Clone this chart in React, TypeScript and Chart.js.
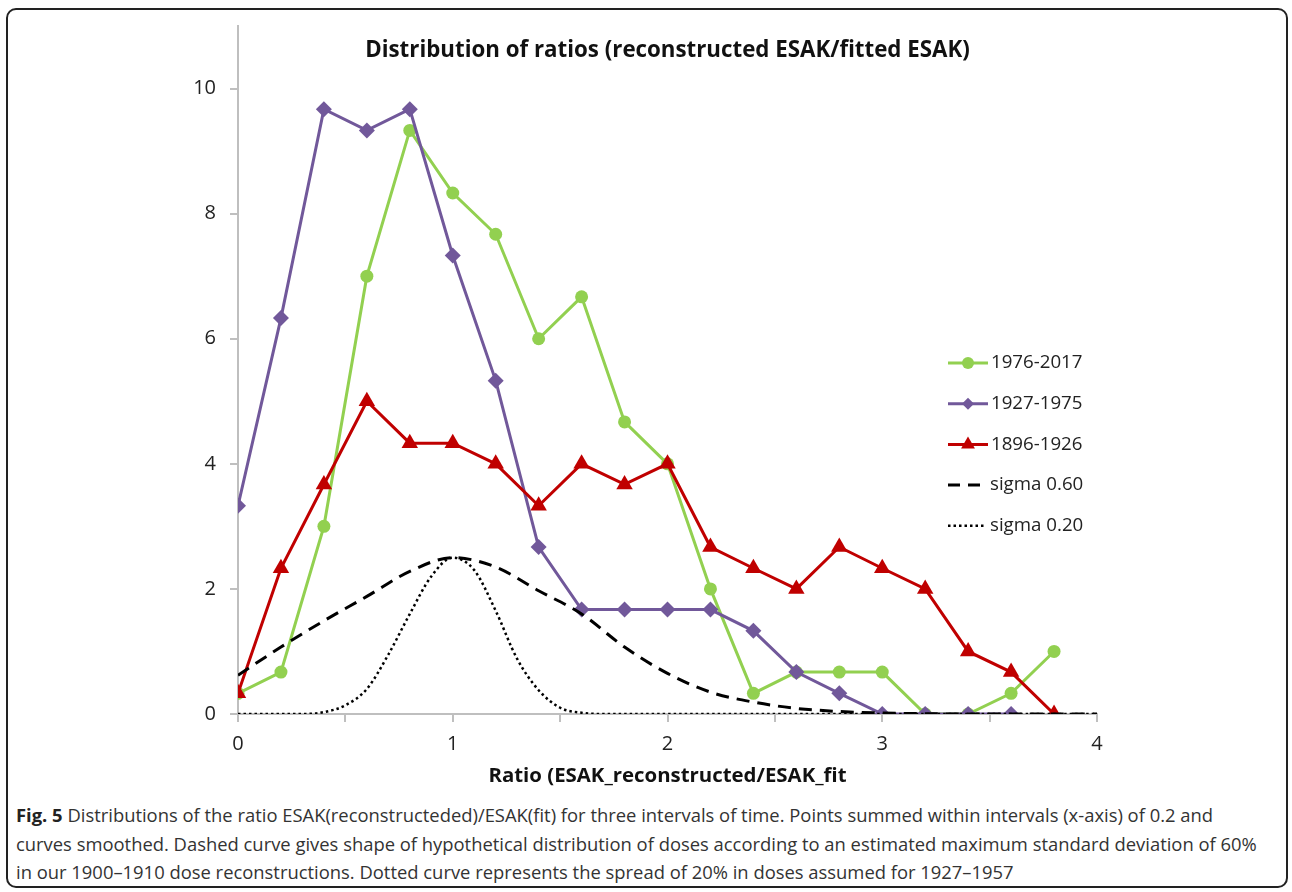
import React, { useEffect, useRef } from 'react';
import { Chart, registerables } from 'chart.js';

Chart.register(...registerables);

// ---- Data ----
const ratioBins = [0, 0.2, 0.4, 0.6, 0.8, 1.0, 1.2, 1.4, 1.6, 1.8, 2.0, 2.2, 2.4, 2.6, 2.8, 3.0, 3.2, 3.4, 3.6, 3.8];
const series1976 = [0.33, 0.67, 3.0, 7.0, 9.33, 8.33, 7.67, 6.0, 6.67, 4.67, 4.0, 2.0, 0.33, 0.67, 0.67, 0.67, 0, 0, 0.33, 1.0];
const series1927 = [3.33, 6.33, 9.67, 9.33, 9.67, 7.33, 5.33, 2.67, 1.67, 1.67, 1.67, 1.67, 1.33, 0.67, 0.33, 0, 0, 0, 0, null];
const series1896 = [0.33, 2.33, 3.67, 5.0, 4.33, 4.33, 4.0, 3.33, 4.0, 3.67, 4.0, 2.67, 2.33, 2.0, 2.67, 2.33, 2.0, 1.0, 0.67, 0];

const sigma60X = [0, 0.2, 0.4, 0.6, 0.8, 1.0, 1.2, 1.4, 1.6, 1.8, 2.0, 2.2, 2.4, 2.6, 2.8, 3.0, 3.2, 3.4, 3.6, 3.8, 4.0];
const sigma60Y = [0.62, 1.07, 1.49, 1.88, 2.28, 2.5, 2.35, 1.97, 1.6, 1.07, 0.65, 0.35, 0.19, 0.09, 0.04, 0.015, 0.005, 0, 0, 0, 0];

const sigma20X = [0, 0.3, 0.4, 0.5, 0.6, 0.7, 0.8, 0.9, 1.0, 1.1, 1.2, 1.3, 1.4, 1.5, 1.6, 1.7, 4.0];
const sigma20Y = [0, 0, 0.03, 0.14, 0.4, 0.95, 1.6, 2.2, 2.5, 2.3, 1.65, 0.88, 0.38, 0.1, 0.02, 0, 0];

const seriesLabels = ['1976-2017', '1927-1975', '1896-1926', 'sigma 0.60', 'sigma 0.20'];
const titleText = 'Distribution of ratios (reconstructed ESAK/fitted ESAK)';
const xTitleText = 'Ratio (ESAK_reconstructed/ESAK_fit';

const GREEN = '#92d050';
const PURPLE = '#71589a';
const RED = '#c00000';
const FONT = '"Open Sans", "DejaVu Sans", sans-serif';

const toXY = (xs: number[], ys: (number | null)[]) => xs.map((x, i) => ({ x, y: ys[i] }));

function drawMarker(ctx: CanvasRenderingContext2D, style: string, x: number, y: number, r: number, color: string) {
  ctx.save();
  ctx.fillStyle = color;
  ctx.beginPath();
  if (style === 'circle') {
    ctx.arc(x, y, r, 0, Math.PI * 2);
  } else if (style === 'rectRot') {
    ctx.moveTo(x, y - r);
    ctx.lineTo(x + r, y);
    ctx.lineTo(x, y + r);
    ctx.lineTo(x - r, y);
    ctx.closePath();
  } else if (style === 'triangle') {
    ctx.moveTo(x, y - r);
    ctx.lineTo(x + r * 0.866, y + r * 0.5);
    ctx.lineTo(x - r * 0.866, y + r * 0.5);
    ctx.closePath();
  }
  ctx.fill();
  ctx.restore();
}

const overlayPlugin = {
  id: 'overlay',
  afterDraw(chart: any) {
    const { ctx, chartArea } = chart;
    ctx.save();
    // title
    ctx.fillStyle = '#111';
    ctx.font = `bold 22.3px ${FONT}`;
    ctx.textAlign = 'center';
    ctx.textBaseline = 'middle';
    ctx.fillText(titleText, (chartArea.left + chartArea.right) / 2, chartArea.top + 25);

    // legend
    const lx = chartArea.left + 710;
    const ly0 = chartArea.top + 337;
    const gap = 40.7;
    const items = [
      { kind: 'marker', color: GREEN, style: 'circle', r: 6 },
      { kind: 'marker', color: PURPLE, style: 'rectRot', r: 6 },
      { kind: 'marker', color: RED, style: 'triangle', r: 8 },
      { kind: 'dash' },
      { kind: 'dot' },
    ];
    items.forEach((it: any, i: number) => {
      const y = ly0 + i * gap;
      ctx.save();
      if (it.kind === 'marker') {
        ctx.strokeStyle = it.color;
        ctx.lineWidth = 3;
        ctx.beginPath();
        ctx.moveTo(lx, y);
        ctx.lineTo(lx + 40, y);
        ctx.stroke();
        drawMarker(ctx, it.style, lx + 20, y, it.r, it.color);
      } else if (it.kind === 'dash') {
        ctx.strokeStyle = '#000';
        ctx.lineWidth = 3;
        ctx.setLineDash([12, 8]);
        ctx.beginPath();
        ctx.moveTo(lx, y);
        ctx.lineTo(lx + 32, y);
        ctx.stroke();
      } else {
        ctx.strokeStyle = '#000';
        ctx.lineWidth = 2.5;
        ctx.setLineDash([2.5, 3]);
        ctx.beginPath();
        ctx.moveTo(lx, y);
        ctx.lineTo(lx + 37, y);
        ctx.stroke();
      }
      ctx.restore();
      ctx.fillStyle = '#222';
      ctx.font = `18.7px ${FONT}`;
      ctx.textAlign = 'left';
      ctx.textBaseline = 'middle';
      ctx.fillText(seriesLabels[i], it.kind === 'marker' ? lx + 43 : lx + 42, y);
    });
    ctx.restore();
  },
};

export default function App() {
  const ref = useRef<HTMLCanvasElement>(null);

  useEffect(() => {
    if (!ref.current) return;
    const chart = new Chart(ref.current, {
      type: 'line',
      data: {
        datasets: [
          {
            label: seriesLabels[0],
            data: toXY(ratioBins, series1976),
            borderColor: GREEN,
            backgroundColor: GREEN,
            borderWidth: 3,
            pointStyle: 'circle',
            pointRadius: 6.5,
            pointBorderWidth: 0,
            order: 4,
          },
          {
            label: seriesLabels[1],
            data: toXY(ratioBins, series1927),
            borderColor: PURPLE,
            backgroundColor: PURPLE,
            borderWidth: 3,
            pointStyle: 'rectRot',
            pointRadius: 8,
            pointBorderWidth: 0,
            order: 3,
          },
          {
            label: seriesLabels[2],
            data: toXY(ratioBins, series1896),
            borderColor: RED,
            backgroundColor: RED,
            borderWidth: 3,
            pointStyle: 'triangle',
            pointRadius: 9.5,
            pointBorderWidth: 0,
            order: 2,
          },
          {
            label: seriesLabels[3],
            data: toXY(sigma60X, sigma60Y),
            borderColor: '#000',
            borderWidth: 3,
            borderDash: [13, 8],
            pointRadius: 0,
            cubicInterpolationMode: 'monotone',
            order: 1,
          },
          {
            label: seriesLabels[4],
            data: toXY(sigma20X, sigma20Y),
            borderColor: '#000',
            borderWidth: 2.5,
            borderDash: [2.5, 3],
            pointRadius: 0,
            cubicInterpolationMode: 'monotone',
            order: 0,
          },
        ] as any,
      },
      options: {
        responsive: false,
        animation: false,
        layout: { padding: { left: 0, right: 195, top: 25, bottom: 0 } },
        plugins: {
          legend: { display: false },
          tooltip: { enabled: false },
          title: { display: false },
        },
        scales: {
          x: {
            type: 'linear',
            min: 0,
            max: 4,
            ticks: {
              stepSize: 0.5,
              autoSkip: false,
              maxRotation: 0,
              padding: 10,
              color: '#222',
              font: { family: FONT, size: 20 },
              callback: (v: any) => (Number.isInteger(Number(v)) ? String(v) : ''),
            },
            grid: { drawOnChartArea: false, drawTicks: true, tickLength: 8, color: '#bfbfbf', lineWidth: 2 },
            border: { color: '#bfbfbf', width: 2 },
            title: {
              display: true,
              text: xTitleText,
              color: '#111',
              font: { family: FONT, size: 20.4, weight: 'bold' },
              padding: { top: 0, bottom: 12 },
            },
            afterFit: (s: any) => { s.height = 86; },
          },
          y: {
            type: 'linear',
            min: 0,
            max: 11,
            ticks: {
              stepSize: 2,
              padding: 14,
              color: '#222',
              font: { family: FONT, size: 20 },
            },
            afterBuildTicks: (s: any) => { s.ticks = s.ticks.filter((t: any) => t.value % 2 === 0); },
            grid: { drawOnChartArea: false, drawTicks: true, tickLength: 8, color: '#bfbfbf', lineWidth: 2 },
            border: { color: '#bfbfbf', width: 2 },
            afterFit: (s: any) => { s.width = 238; },
          },
        },
      } as any,
      plugins: [overlayPlugin],
    });
    return () => chart.destroy();
  }, []);

  return (
    <div style={{ position: 'absolute', left: 0, top: 0, width: 1292, height: 892, background: '#fff' }}>
      <div
        style={{
          position: 'absolute',
          left: 6,
          top: 8,
          width: 1282,
          height: 880,
          boxSizing: 'border-box',
          border: '2px solid #222',
          borderRadius: 10,
        }}
      />
      <canvas ref={ref} width={1292} height={800} style={{ position: 'absolute', left: 0, top: 0, width: 1292, height: 800 }} />
      <div
        style={{
          position: 'absolute',
          left: 16,
          top: 801,
          whiteSpace: 'nowrap',
          fontFamily: FONT,
          fontSize: 18.4,
          lineHeight: '28.5px',
          color: '#333',
        }}
      >
        <b style={{ color: '#222' }}>Fig. 5</b> Distributions of the ratio ESAK(reconstructeded)/ESAK(fit) for three intervals of time. Points summed within intervals (x-axis) of 0.2 and
        <br />
        curves smoothed. Dashed curve gives shape of hypothetical distribution of doses according to an estimated maximum standard deviation of 60%
        <br />
        in our 1900–1910 dose reconstructions. Dotted curve represents the spread of 20% in doses assumed for 1927–1957
      </div>
    </div>
  );
}
